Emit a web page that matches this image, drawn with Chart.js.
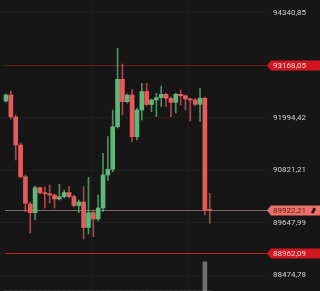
<!DOCTYPE html>
<html>
<head>
<meta charset="utf-8">
<script src="https://cdn.jsdelivr.net/npm/chart.js@4/dist/chart.umd.min.js"></script>
<style>
  html, body { margin: 0; padding: 0; background: #161616; }
  canvas { display: block; }
</style>
</head>
<body>
<canvas id="chart" width="320" height="291"></canvas>
<script>
// candles, oldest first
var open  = [92366, 92500, 92008, 91382, 90673, 90063, 89868, 90427, 90315, 90293, 90264, 90175, 90226, 90320, 90230, 90029, 90107, 89537, 89868, 89727, 89973, 90711, 90839, 91791, 92851, 92351, 92500, 91568, 92165, 92579, 92288, 92389, 92440, 92516, 92427, 92337, 92516, 92485, 92411, 92389, 92292, 92427, 89940];
var high  = [92523, 92590, 92053, 91427, 90712, 90107, 90465, 90443, 90443, 90488, 90286, 90503, 90376, 90450, 90264, 90152, 90450, 90660, 89929, 90264, 91197, 91568, 92165, 93545, 93194, 92523, 92628, 92210, 92762, 92762, 92411, 92538, 92702, 92545, 92456, 92545, 92612, 92500, 92433, 92433, 92650, 92456, 90302];
var low   = [92344, 91964, 91047, 90644, 89890, 89414, 89705, 90286, 89973, 90085, 89973, 90152, 90197, 90197, 89996, 89868, 89280, 89392, 89331, 89683, 89890, 90584, 90785, 91762, 92053, 92321, 91456, 91494, 91941, 92254, 92127, 92015, 92239, 92239, 92015, 92098, 92277, 92165, 91919, 92254, 91903, 89817, 89631];
var close = [92500, 92015, 91382, 90673, 90078, 89868, 90427, 90315, 90293, 90264, 90175, 90226, 90320, 90230, 90029, 90107, 89537, 89868, 89727, 89973, 90711, 90839, 91791, 92851, 92351, 92500, 91568, 92165, 92579, 92288, 92389, 92440, 92516, 92427, 92337, 92516, 92485, 92411, 92389, 92292, 92427, 89929, 89922.21];
var volume = [0, 0, 0, 0, 0, 0, 0, 0, 0, 0, 0, 0, 0, 0, 0, 0, 0, 0, 0, 0, 0, 0, 0, 0, 0, 0, 0, 0, 0, 0, 0, 0, 0, 0, 0, 0, 0, 0, 0, 0, 0, 10, 0];

// price axis
var tickValues = [94340.85, 93168.05, 91994.42, 90821.21, 89647.99, 88474.78];
var tickLabels = ['94340,85', '93168,05', '91994,42', '90821,21', '89647,99', '88474,78'];

// marked levels: high alert, last price, low alert
var levelPrices = [93168.05, 89922.21, 88962.09];
var levelLabels = ['93168,05', '89922,21', '88962,09'];

// vertical time grid (candle index)
var timeGridAt = [7.6, 27.6, 47.6];

var UP = '#5fb879', DOWN = '#e65d5d';
var UP_WICK = 'rgba(95,184,121,0.75)', DOWN_WICK = 'rgba(230,93,93,0.7)';
var GRID = 'rgba(255,255,255,0.035)';

var idx = open.map(function (v, i) { return i; });
var isUp = idx.map(function (i) { return close[i] >= open[i]; });

var levelStyle = [
  { line: '#6a1c1c', box: '#d3161e', text: '#ffd6d6', icon: false },
  { line: '#7d6864', box: '#e9706b', text: '#6e1414', icon: true },
  { line: '#c41f1f', box: '#d3161e', text: '#ffd6d6', icon: false }
];

var levelPlugin = {
  id: 'levels',
  beforeDatasetsDraw: function (chart) {
    var ctx = chart.ctx, area = chart.chartArea, y = chart.scales.y;
    ctx.save();
    levelPrices.forEach(function (p, i) {
      var py = Math.round(y.getPixelForValue(p));
      ctx.fillStyle = levelStyle[i].line;
      ctx.fillRect(area.left + 5, py, area.right - area.left - 5, 1);
    });
    ctx.restore();
  },
  afterDraw: function (chart) {
    var ctx = chart.ctx, area = chart.chartArea, y = chart.scales.y;
    ctx.save();
    ctx.font = '8px Roboto';
    ctx.textBaseline = 'middle';
    levelPrices.forEach(function (p, i) {
      var py = Math.round(y.getPixelForValue(p)) + 0.5;
      var x0 = area.right;
      var st = levelStyle[i];
      ctx.fillStyle = st.box;
      ctx.beginPath();
      ctx.moveTo(x0, py);
      ctx.lineTo(x0 + 4, py - 5);
      ctx.lineTo(320, py - 5);
      ctx.lineTo(320, py + 5);
      ctx.lineTo(x0 + 4, py + 5);
      ctx.closePath();
      ctx.fill();
      ctx.fillStyle = st.text;
      ctx.fillText(levelLabels[i], x0 + 6, py + 0.5);
      if (st.icon) {
        // small tag mark
        ctx.fillStyle = '#2a0a0a';
        ctx.beginPath();
        ctx.moveTo(x0 + 44, py + 2.5);
        ctx.lineTo(x0 + 46.5, py - 3);
        ctx.lineTo(x0 + 49, py - 1.5);
        ctx.lineTo(x0 + 46.5, py + 3);
        ctx.closePath();
        ctx.fill();
      }
    });
    ctx.restore();
  }
};

function noPad(axis) {
  axis.paddingTop = 0;
  axis.paddingBottom = 0;
  axis.paddingLeft = 0;
  axis.paddingRight = 0;
}

new Chart(document.getElementById('chart'), {
  type: 'bar',
  data: {
    datasets: [
      {
        label: 'wick',
        data: idx.map(function (i) { return { x: i, y: [low[i], high[i]] }; }),
        backgroundColor: idx.map(function (i) { return isUp[i] ? UP_WICK : DOWN_WICK; }),
        barThickness: 1,
        grouped: false,
        yAxisID: 'y'
      },
      {
        label: 'body',
        data: idx.map(function (i) { return { x: i, y: [open[i], close[i]] }; }),
        backgroundColor: idx.map(function (i) { return isUp[i] ? UP : DOWN; }),
        barThickness: 4,
        minBarLength: 1,
        grouped: false,
        yAxisID: 'y'
      },
      {
        label: 'volume',
        data: idx.map(function (i) { return { x: i, y: volume[i] }; }),
        backgroundColor: '#6f6f6f',
        barThickness: 4,
        grouped: false,
        yAxisID: 'vol'
      }
    ]
  },
  options: {
    responsive: false,
    animation: false,
    events: [],
    layout: { padding: 0 },
    plugins: { legend: { display: false }, tooltip: { enabled: false } },
    scales: {
      x: {
        type: 'linear',
        min: -1.24,
        max: 53.81,
        offset: false,
        grid: { color: GRID, drawTicks: false },
        border: { display: false },
        ticks: { display: false },
        afterBuildTicks: function (axis) {
          axis.ticks = timeGridAt.map(function (v) { return { value: v }; });
        },
        afterFit: function (axis) { axis.height = 0; noPad(axis); }
      },
      y: {
        position: 'right',
        min: 88117,
        max: 94625,
        grid: { color: GRID, drawTicks: false },
        border: { display: false },
        ticks: {
          padding: 6,
          color: '#d2d2d2',
          font: { family: 'Roboto', size: 8 },
          callback: function (v) {
            var k = tickValues.indexOf(v);
            return k >= 0 ? tickLabels[k] : '';
          }
        },
        afterBuildTicks: function (axis) {
          axis.ticks = tickValues.map(function (v) { return { value: v }; });
        },
        afterFit: function (axis) { axis.width = 53; noPad(axis); }
      },
      vol: {
        display: false,
        min: 0,
        max: 100
      }
    }
  },
  plugins: [levelPlugin]
});
</script>
</body>
</html>
